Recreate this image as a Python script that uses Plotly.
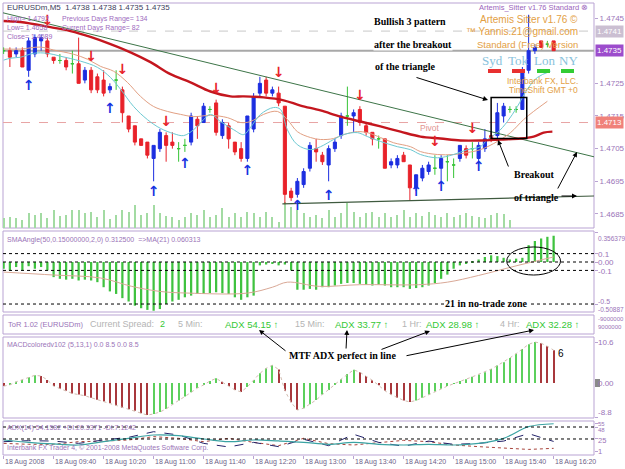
import plotly.graph_objects as go

# ---------------- data ----------------
# 5-minute bars, index 0 = 18 Aug 2008 09:00
bar_i = list(range(89))
opens = [1.4735,1.4735,1.4734,1.4735,1.4729,1.4734,1.4738,1.4738,1.4733,1.4732,
         1.4732,1.4731,1.4731,1.4726,1.4729,1.4727,1.4726,1.4723,1.4726,1.4723,
         1.4715,1.4712,1.4708,1.4707,1.4702,1.4705,1.4709,1.4707,1.4705,1.4706,
         1.4707,1.4714,1.4713,1.4717,1.4719,1.4709,1.4712,1.4707,1.4705,1.4702,
         1.4711,1.4722,1.4726,1.4722,1.4722,1.4718,1.4692,1.4691,1.4694,1.4699,
         1.4705,1.4703,1.4700,1.4705,1.4709,1.4715,1.4715,1.4717,1.4712,1.4710,
         1.4708,1.4708,1.4700,1.4700,1.4703,1.4700,1.4693,1.4696,1.4698,1.4699,
         1.4699,1.4701,1.4700,1.4702,1.4705,1.4705,1.4702,1.4705,1.4709,1.4709,
         1.4715,1.4717,1.4717,1.4717,1.4729,1.4735,1.4738,1.4737,1.4738]
highs = [1.4736,1.4736,1.4736,1.4736,1.4739,1.4740,1.4740,1.4739,1.4733,1.4734,
         1.4733,1.4735,1.4739,1.4730,1.4730,1.4728,1.4729,1.4725,1.4729,1.4724,
         1.4715,1.4712,1.4708,1.4707,1.4706,1.4711,1.4710,1.4710,1.4707,1.4708,
         1.4716,1.4715,1.4719,1.4718,1.4720,1.4714,1.4713,1.4707,1.4707,1.4715,
         1.4722,1.4727,1.4727,1.4724,1.4724,1.4718,1.4693,1.4696,1.4699,1.4707,
         1.4708,1.4704,1.4706,1.4708,1.4716,1.4724,1.4717,1.4718,1.4713,1.4710,
         1.4709,1.4708,1.4702,1.4703,1.4704,1.4700,1.4697,1.4700,1.4701,1.4703,
         1.4703,1.4703,1.4702,1.4706,1.4706,1.4707,1.4707,1.4711,1.4710,1.4719,
         1.4719,1.4718,1.4718,1.4730,1.4746,1.4737,1.4738,1.4738,1.4738]
lows = [1.4734,1.4730,1.4733,1.4730,1.4727,1.4733,1.4735,1.4733,1.4731,1.4731,
        1.4729,1.4728,1.4725,1.4725,1.4722,1.4722,1.4721,1.4722,1.4723,1.4713,
        1.4710,1.4706,1.4706,1.4702,1.4695,1.4704,1.4701,1.4705,1.4701,1.4704,
        1.4706,1.4708,1.4713,1.4716,1.4709,1.4708,1.4705,1.4703,1.4701,1.4701,
        1.4710,1.4721,1.4721,1.4721,1.4718,1.4688,1.4689,1.4690,1.4693,1.4698,
        1.4701,1.4700,1.4695,1.4704,1.4708,1.4712,1.4710,1.4712,1.4709,1.4706,
        1.4705,1.4699,1.4699,1.4699,1.4701,1.4689,1.4692,1.4695,1.4697,1.4697,
        1.4695,1.4695,1.4696,1.4701,1.4702,1.4702,1.4701,1.4704,1.4707,1.4708,
        1.4713,1.4716,1.4716,1.4717,1.4728,1.4734,1.4736,1.4736,1.4735]
closes = [1.4735,1.4733,1.4735,1.4730,1.4738,1.4739,1.4739,1.4734,1.4732,1.4732,
          1.4730,1.4731,1.4725,1.4729,1.4723,1.4723,1.4722,1.4724,1.4726,1.4716,
          1.4711,1.4707,1.4706,1.4703,1.4706,1.4710,1.4706,1.4706,1.4705,1.4706,
          1.4715,1.4712,1.4718,1.4717,1.4710,1.4713,1.4708,1.4704,1.4702,1.4715,
          1.4721,1.4725,1.4722,1.4723,1.4719,1.4691,1.4690,1.4695,1.4698,1.4706,
          1.4704,1.4701,1.4705,1.4707,1.4715,1.4715,1.4716,1.4713,1.4710,1.4708,
          1.4708,1.4699,1.4701,1.4702,1.4701,1.4693,1.4697,1.4699,1.4700,1.4699,
          1.4702,1.4701,1.4700,1.4706,1.4703,1.4705,1.4706,1.4708,1.4708,1.4716,
          1.4718,1.4717,1.4717,1.4729,1.4735,1.4736,1.4736,1.4737,1.4735]
doji_bars = [0, 9, 11, 18, 28, 29, 33, 55, 60, 69, 71, 72, 75, 81, 82, 87]

volume = [20,22,20,16,30,26,30,20,36,24, 26,36,36,30,32,22,36,18,26,36,
          32,46,26,30,46,30,24,22,16,22, 30,26,36,22,26,40,22,30,22,32,
          30,22,32,22,12,52,42,36,30,22, 26,20,36,22,30,50,32,22,30,32,
          22,30,22,26,36,22,30,24,32,26, 22,30,22,26,30,24,22,20,26,30, 28,16]

fast_i = [0,1.1,2.7,4.8,7,9.1,12.3,15,17.1,18.7,20.8,23,25.1,27.2,28.8,30.4,32,33.1,34.7,36.8,
          38.4,39.5,41.1,43.2,44.3,45.4,47,49.1,50.7,52.8,54.4,56.6,58.2,60.3,63,65.1,66.7,69.4,72,74.2,
          76.3,77.4,79,80.6,82.2,83.8,85.4,87.5]
fast_ma = [1.47321,1.47327,1.47330,1.47342,1.47342,1.47333,1.47318,1.47299,1.47268,1.47232,
           1.47179,1.47139,1.47112,1.47096,1.47090,1.47108,1.47139,1.47155,1.47133,1.47108,
           1.47093,1.47115,1.47155,1.47176,1.47170,1.47108,1.47062,1.47047,1.47056,1.47078,
           1.47093,1.47099,1.47087,1.47072,1.47056,1.47047,1.47032,1.47022,1.47032,1.47047,
           1.47056,1.47078,1.47099,1.47133,1.47179,1.47232,1.47268,1.47287]
mid_i = [0,2.7,5.9,8,11.2,13.4,15.5,17.6,19.8,21.9,24,26.2,28.3,30.4,33.1,35.8,37.9,39.5,41.6,43.8,
         45.4,47,49.1,50.7,52.8,54.4,56.6,58.2,60.3,62.4,65.1,66.7,69.4,72,74.2,76.3,79,81.1,83.2,84.8,87]
mid_ma = [1.47355,1.47355,1.47361,1.47352,1.47339,1.47324,1.47302,1.47287,1.47253,1.47210,
          1.47179,1.47164,1.47155,1.47148,1.47152,1.47145,1.47130,1.47133,1.47155,1.47164,
          1.47139,1.47102,1.47084,1.47078,1.47081,1.47093,1.47102,1.47099,1.47084,1.47068,
          1.47056,1.47041,1.47032,1.47032,1.47038,1.47047,1.47072,1.47099,1.47139,1.47164,1.47195]
slow_i = [0,2.7,7.5,10.7,13.9,17.1,20.3,23.5,26.7,29.9,33.1,36.3,38.4,41.6,44.8,47.5,50.7,53.9,57.1,60.3,
          63.5,66.7,69.9,73.1,76.3,79.5,82.7,84.8,86.4,87.8]
slow_ma = [1.47441,1.47438,1.47422,1.47410,1.47392,1.47370,1.47345,1.47315,1.47278,1.47253,
           1.47225,1.47210,1.47210,1.47207,1.47198,1.47182,1.47167,1.47148,1.47133,1.47118,
           1.47102,1.47087,1.47081,1.47075,1.47075,1.47078,1.47081,1.47087,1.47099,1.47102]

upper_tl_i = [-0.1, 94.46]
upper_tl = [1.47466, 1.47025]
lower_tl_i = [44.6, 94.46]
lower_tl = [1.46881, 1.46905]

up_arrow_i = [4, 17, 24, 29, 39, 47, 52, 66, 70, 76]
up_arrow_p = [1.4724, 1.4717, 1.46915, 1.4700, 1.46979, 1.46872, 1.46902, 1.46915, 1.4693, 1.46992]
dn_arrow_i = [7, 14, 19, 26, 34, 44, 57, 69, 75]
dn_arrow_p = [1.4744, 1.4733, 1.4729, 1.4713, 1.4723, 1.4728, 1.4721, 1.4707, 1.4711]

sma_angle = [-0.08,-0.10,-0.06,-0.10,-0.05,-0.08,-0.06,-0.10,-0.18,-0.20,
             -0.21,-0.20,-0.22,-0.21,-0.22,-0.24,-0.30,-0.35,-0.38,-0.43,
             -0.47,-0.52,-0.55,-0.57,-0.58,-0.56,-0.50,-0.47,-0.45,-0.42,
             -0.40,-0.38,-0.38,-0.37,-0.36,-0.37,-0.38,-0.42,-0.45,-0.42,
             -0.40,-0.04,-0.03,-0.02,-0.04,-0.03,-0.10,-0.33,-0.33,-0.32,
             -0.33,-0.30,-0.30,-0.28,-0.26,-0.25,-0.25,-0.26,-0.27,-0.28,
             -0.27,-0.28,-0.30,-0.30,-0.30,-0.32,-0.31,-0.30,-0.28,-0.25,
             -0.20,-0.15,-0.08,-0.04,-0.02,0.01,0.03,0.06,0.08,0.07,
             0.05,0.03,0.04,0.05,0.20,0.25,0.28,0.30,0.3125]
sma_ma_i = [0, 8, 15.5, 20.5, 25, 29.5, 39, 43, 45.4, 50.5, 57, 66.4, 71, 76, 82.3, 88]
sma_ma = [-0.12,-0.155,-0.19,-0.29,-0.35,-0.37,-0.37,-0.30,-0.24,-0.29,-0.27,-0.27,-0.24,-0.16,-0.04,0.06]
sma_levels = [0.356379, 0.1, 0.0, -0.1, -0.5, -0.50887]
sma_level_text = ['0.356379', '0.1', '0.00', '-0.1', '-0.5', '-0.50887']

macd = [-0.8,-0.5,0.3,0.8,1.5,2.0,1.8,0.8,-0.8,-1.5,
        -2.0,-2.7,-3.0,-3.3,-3.8,-4.3,-4.8,-5.2,-5.8,-6.4,
        -6.8,-7.2,-7.8,-8.3,-8.0,-7.5,-6.7,-5.5,-4.5,-3.5,
        -2.4,-1.3,-0.5,0.5,1.2,0.3,-0.8,-1.8,-2.3,-1.0,
        0.8,2.5,3.8,4.6,3.5,-2.0,-5.0,-7.0,-6.5,-5.5,
        -4.4,-3.0,-1.8,-0.4,1.0,2.3,3.4,2.8,1.8,0.7,
        -0.6,-2.0,-3.0,-3.8,-4.5,-4.9,-4.5,-3.8,-3.0,-2.2,
        -1.5,-0.8,-0.2,0.5,1.0,1.6,2.2,2.8,3.6,4.5,
        5.4,6.5,7.6,8.8,10.0,10.6,10.3,9.5,8.5]
macd_levels = [10.6, 0, -8.8]
macd_level_text = ['10.6', '0.00', '-8.8']

adx_i = [0,4,8,12,16,20,24,28,32,36,40,44,48,52,56,60,64,68,72,76,80,84,88]
adx = [23.1,18.7,15.5,13.5,19.8,26.3,32.7,31.4,25.0,19.8,23.1,21.2,18.7,14.8,18.7,14.8,13.5,14.8,13.5,16.6,26.3,48.6,54.2]
plus_di = [19.8,21.8,21.0,16.6,23.1,28.2,39.0,32.7,16.6,9.7,18.5,10.3,24.4,12.2,34.0,18.5,11.0,21.0,14.8,16.6,21.0,35.3,20.3]
minus_di = [16.6,14.8,14.8,19.8,21.0,23.1,29.5,26.3,19.8,26.3,18.5,12.2,26.3,16.0,13.5,18.5,22.4,19.8,13.5,10.3,7.1,5.0,7.1]
adx_levels = [55, 48, 25, 1]

time_i = [0, 8, 16, 24, 32, 40, 48, 56, 64, 72, 80, 88]
time_labels = ["18 Aug 2008", "18 Aug 09:40", "18 Aug 10:20", "18 Aug 11:00", "18 Aug 11:40",
               "18 Aug 12:20", "18 Aug 13:00", "18 Aug 13:40", "18 Aug 14:20", "18 Aug 15:00",
               "18 Aug 15:40", "18 Aug 16:20"]

price_ticks = [1.4745, 1.4725, 1.4715, 1.4705, 1.4695, 1.4685]

# ---------------- layout helpers ----------------
W, H = 625, 469
ML, MR = 3, 31
PW = W - ML - MR

def px(x):
    return (x - ML) / PW

def py(y):
    return 1 - y / H

def dom(top, bottom):
    return [py(bottom), py(top)]

XR = [-0.1, 94.46]
PURPLE = '#9a74b8'
BORDER = '#b9a3d3'
FONT = 'Liberation Sans'
SERIF = 'Liberation Serif'
BLUE = '#1c2ee0'
RED = '#e8222a'
GREEN = '#36c436'

fig = go.Figure()

# volume (base axis of main pane)
fig.add_trace(go.Bar(x=bar_i[:len(volume)], y=volume, width=0.2, marker_color='#a3dba3',
                     marker_line_width=0, xaxis='x', yaxis='y', showlegend=False))

# trend lines and moving averages (price axis y6)
fig.add_trace(go.Scatter(x=upper_tl_i, y=upper_tl, mode='lines', line=dict(color='#3d7548', width=1),
                         xaxis='x', yaxis='y6'))
fig.add_trace(go.Scatter(x=lower_tl_i, y=lower_tl, mode='lines', line=dict(color='#3f5a3f', width=1.2),
                         xaxis='x', yaxis='y6'))
fig.add_trace(go.Scatter(x=mid_i, y=mid_ma, mode='lines', line=dict(color='#e2a083', width=1, shape='spline'),
                         xaxis='x', yaxis='y6'))
fig.add_trace(go.Scatter(x=fast_i, y=fast_ma, mode='lines', line=dict(color='#6cc9d2', width=1, shape='spline'),
                         xaxis='x', yaxis='y6'))
fig.add_trace(go.Scatter(x=slow_i, y=slow_ma, mode='lines', line=dict(color='#c4161e', width=2.4, shape='spline'),
                         xaxis='x', yaxis='y6'))

# candles
bx, bo, bh, bl, bc = [], [], [], [], []
gx, go_, gh, gl, gc = [], [], [], [], []
for k in bar_i:
    if k in doji_bars:
        gx.append(k); go_.append(opens[k]); gh.append(highs[k]); gl.append(lows[k]); gc.append(closes[k])
    else:
        bx.append(k); bo.append(opens[k]); bh.append(highs[k]); bl.append(lows[k]); bc.append(closes[k])

fig.add_trace(go.Candlestick(x=bx, open=bo, high=bh, low=bl, close=bc, xaxis='x', yaxis='y6',
                             increasing=dict(line=dict(color=BLUE, width=1), fillcolor=BLUE),
                             decreasing=dict(line=dict(color=RED, width=1), fillcolor=RED),
                             whiskerwidth=0, showlegend=False))
fig.add_trace(go.Candlestick(x=gx, open=go_, high=gh, low=gl, close=gc, xaxis='x', yaxis='y6',
                             increasing=dict(line=dict(color=GREEN, width=1), fillcolor=GREEN),
                             decreasing=dict(line=dict(color=GREEN, width=1), fillcolor=GREEN),
                             whiskerwidth=0, showlegend=False))

# fractal arrows
fig.add_trace(go.Scatter(x=up_arrow_i, y=up_arrow_p, mode='text', text=['<b>↑</b>'] * len(up_arrow_i),
                         textfont=dict(family='DejaVu Sans', size=14, color='#1530e0'),
                         textposition='middle center', xaxis='x', yaxis='y6'))
fig.add_trace(go.Scatter(x=dn_arrow_i, y=dn_arrow_p, mode='text', text=['<b>↓</b>'] * len(dn_arrow_i),
                         textfont=dict(family='DejaVu Sans', size=14, color='#e8222a'),
                         textposition='middle center', xaxis='x', yaxis='y6'))

# SMA angle pane
fig.add_trace(go.Bar(x=bar_i, y=sma_angle, width=0.36, marker_color='#3fc23f', marker_line_width=0,
                     xaxis='x2', yaxis='y2'))
fig.add_trace(go.Scatter(x=sma_ma_i, y=sma_ma, mode='lines', line=dict(color='#d9a896', width=1, shape='spline'),
                         xaxis='x2', yaxis='y2'))

# MACD pane
macd_colors = []
for k, v in enumerate(macd):
    macd_colors.append('#5cd05c' if k > 0 and v >= macd[k - 1] else '#a8383c')
fig.add_trace(go.Scatter(x=bar_i, y=macd, mode='lines', line=dict(color='#d2bcb0', width=1, dash='dot'),
                         xaxis='x4', yaxis='y4'))
fig.add_trace(go.Bar(x=bar_i, y=macd, width=0.2, marker_color=macd_colors, marker_line_width=0,
                     xaxis='x4', yaxis='y4'))

# ADX pane
fig.add_trace(go.Scatter(x=adx_i, y=minus_di, mode='lines', line=dict(color='#a8443c', width=1, dash='dot'),
                         xaxis='x5', yaxis='y5'))
fig.add_trace(go.Scatter(x=adx_i, y=plus_di, mode='lines', line=dict(color='#23236a', width=1, dash='dash'),
                         xaxis='x5', yaxis='y5'))
fig.add_trace(go.Scatter(x=adx_i, y=adx, mode='lines', line=dict(color='#3aa3a3', width=1.2, shape='spline'),
                         xaxis='x5', yaxis='y5'))

# ---------------- axes ----------------
tickfont = dict(family=FONT, size=8, color=PURPLE)
xcommon = dict(range=XR, showgrid=False, zeroline=False, showticklabels=False, ticks='', showline=False)
layout = dict(
    width=W, height=H, autosize=False, margin=dict(l=ML, r=MR, t=0, b=0),
    paper_bgcolor='white', plot_bgcolor='white', showlegend=False, boxgap=0.3,
    font=dict(family=FONT, size=8, color=PURPLE),
    xaxis=dict(xcommon, anchor='y', rangeslider=dict(visible=False)),
    xaxis2=dict(xcommon, anchor='y2', matches='x'),
    xaxis3=dict(xcommon, anchor='y3', matches='x'),
    xaxis4=dict(xcommon, anchor='y4', matches='x'),
    xaxis5=dict(xcommon, anchor='y5', matches='x', ticks='outside', ticklen=3, tickcolor=BORDER,
                tickvals=time_i),
    yaxis=dict(domain=dom(3, 228), range=[0, 450], visible=False, fixedrange=True),
    yaxis6=dict(overlaying='y', anchor='x', side='right', range=[1.46807, 1.47496],
                tickvals=price_ticks, ticktext=['%.4f' % v for v in price_ticks],
                ticks='outside', ticklen=3, tickcolor=BORDER, tickfont=tickfont,
                showgrid=False, zeroline=False, showline=False),
    yaxis2=dict(domain=dom(231, 312), anchor='x2', side='right', range=[-0.595, 0.369],
                tickvals=sma_levels, ticktext=[''] * len(sma_levels),
                ticks='outside', ticklen=3, tickcolor=BORDER, tickfont=tickfont,
                showgrid=False, zeroline=False, showline=False),
    yaxis3=dict(domain=dom(315, 334), anchor='x3', range=[0, 1], visible=False),
    yaxis4=dict(domain=dom(337, 418), anchor='x4', side='right', range=[-9.05, 11.9],
                tickvals=macd_levels, ticktext=[''] * len(macd_levels),
                ticks='outside', ticklen=3, tickcolor=BORDER, tickfont=tickfont,
                showgrid=False, zeroline=False, showline=False),
    yaxis5=dict(domain=dom(421, 455), anchor='x5', side='right', range=[-5.7, 59.5],
                tickvals=adx_levels, ticktext=[''] * len(adx_levels),
                ticks='outside', ticklen=3, tickcolor=BORDER, tickfont=tickfont,
                showgrid=False, zeroline=False, showline=False),
)
fig.update_layout(**layout)

# ---------------- shapes ----------------
shapes = []
for top, bottom in [(3, 228), (231, 312), (315, 334), (337, 418), (421, 455)]:
    shapes.append(dict(type='rect', xref='paper', yref='paper', x0=0, x1=1, y0=py(bottom), y1=py(top),
                       line=dict(color=BORDER, width=1), layer='below'))
# horizontal price lines
shapes.append(dict(type='line', xref='paper', yref='y6', x0=0, x1=1, y0=1.4741, y1=1.4741,
                   line=dict(color='#c9c9c9', width=1, dash='dash'), layer='below'))
shapes.append(dict(type='line', xref='paper', yref='y6', x0=0, x1=1, y0=1.4735, y1=1.4735,
                   line=dict(color='#a8a8a8', width=2), layer='below'))
shapes.append(dict(type='line', xref='paper', yref='y6', x0=0, x1=1, y0=1.4713, y1=1.4713,
                   line=dict(color='#e8a4a4', width=1, dash='dash'), layer='below'))
# pattern box
shapes.append(dict(type='rect', xref='x', yref='y6', x0=78.0, x1=83.7, y0=1.47081, y1=1.47207,
                   line=dict(color='black', width=1.5)))
# SMA levels
for lv in [0.1, 0.0, -0.1, -0.5]:
    shapes.append(dict(type='line', xref='paper', yref='y2', x0=0, x1=1, y0=lv, y1=lv,
                       line=dict(color='black', width=1, dash='dot')))
shapes.append(dict(type='circle', xref='x2', yref='y2', x0=80.5, x1=89.1, y0=-0.155, y1=0.179,
                   line=dict(color='black', width=1)))
# ADX levels
for lv in [48, 25]:
    shapes.append(dict(type='line', xref='paper', yref='y5', x0=0, x1=1, y0=lv, y1=lv,
                       line=dict(color='black', width=1, dash='dot')))
# session bars
for x0, col in [(488, '#e83030'), (512, '#e83030'), (537, '#33cc33'), (561, '#33cc33')]:
    shapes.append(dict(type='rect', xref='paper', yref='paper', x0=px(x0), x1=px(x0 + 13),
                       y0=py(73), y1=py(69), line=dict(width=0), fillcolor=col))
# MACD zero marker
shapes.append(dict(type='rect', xref='paper', yref='paper', x0=px(595), x1=px(600), y0=py(387), y1=py(379),
                   line=dict(width=0), fillcolor='#8a8a8a'))
fig.update_layout(shapes=shapes)

# ---------------- annotations ----------------
ann = []

def text(x, y, s, size=8, color=PURPLE, family=FONT, anchor='left', bg=None, yanchor='middle'):
    d = dict(xref='paper', yref='paper', x=px(x), y=py(y), text=s, showarrow=False,
             xanchor=anchor, yanchor=yanchor, align='left',
             font=dict(family=family, size=size, color=color))
    if bg:
        d['bgcolor'] = bg
        d['borderpad'] = 0
    ann.append(d)

def arrow(tx, ty, tailx, taily, width=1):
    ann.append(dict(xref='paper', yref='paper', x=px(tx), y=py(ty), ax=tailx - tx, ay=taily - ty,
                    text='', showarrow=True, arrowhead=2, arrowsize=1, arrowwidth=width,
                    arrowcolor='black'))

# top-left info
text(5, 7, 'EURUSDm,M5  1.4738 1.4738 1.4735 1.4735', 8, '#3c3c5c')
text(5, 13, 'High= 1.4792<br>Low= 1.4658<br>Close= 1.4689', 7, '#a06ac0', yanchor='top')
text(60, 13, 'Previous Days Range= 134<br>Current Days Range= 82', 7, '#a06ac0', yanchor='top')

# indicator box top-right
text(590, 8, 'Artemis_Sitter v1.76 Standard ⊗', 7.5, '#9a64bc', anchor='right')
text(580, 20, 'Artemis Sitter v1.76 ©', 10, '#e3a044', anchor='right')
text(580, 32, '™ Yannis.21@gmail.com', 10, '#e3a044', anchor='right')
text(580, 44, 'Standard (Free) Version', 9.5, '#e3a044', anchor='right')
for x0, s in [(492, 'Syd'), (518, 'Tok'), (544, 'Lon'), (568, 'NY')]:
    text(x0, 60, s, 13, '#88c2dc', SERIF, anchor='center')
text(580, 81, 'Interbank FX, LLC.', 8.5, '#e3a044', anchor='right')
text(580, 90, 'TimeShift GMT +0', 8.5, '#e3a044', anchor='right')

# price highlights
def price_label(p, s, bg):
    ann.append(dict(xref='paper', yref='y6', x=px(595), y=p, text=s, showarrow=False, xanchor='left',
                    yanchor='middle', bgcolor=bg, borderpad=1,
                    font=dict(family=FONT, size=8, color='white')))
price_label(1.4741, '1.4741', '#cbbfd2')
price_label(1.4735, '1.4735', '#9c4ccc')
price_label(1.4713, '1.4713', '#f0817a')

text(418, 128, 'Pivot', 8.5, '#e2948f')

# hand annotations
text(373, 22, '<b>Bullish 3 pattern</b>', 10, 'black', SERIF, bg='white')
text(373, 44, '<b>after the breakout</b>', 10, 'black', SERIF, bg='white')
text(373, 67, '<b>of the triangle</b>', 10, 'black', SERIF)
text(512, 175, '<b>Breakout</b>', 10, 'black', SERIF)
text(512, 197, '<b>of triangle</b>', 10, 'black', SERIF)
arrow(488, 100, 415, 77)
arrow(498, 140, 509, 168)
arrow(577, 196, 560, 196)
arrow(577, 152, 557, 190)

# SMA header + level labels
text(5, 240, 'SMAAngle(50,0.15000000,2,0) 0.312500  =>MA(21) 0.060313', 7, PURPLE)
for lab_y, s, sz in zip([238, 254, 262, 271, 301, 309], sma_level_text, [6.5, 8, 8, 8, 7, 6.5]):
    text(596, lab_y, s, sz, PURPLE)
text(486, 303, '<b>21 in no-trade zone</b>', 10, 'black', SERIF, anchor='center', bg='white')

# MACD level labels
for lab_y, s in zip([342, 383, 412], macd_level_text):
    text(596, lab_y, s, 8, PURPLE)

# ADX level labels
for lab_y, lv, sz in zip([424, 430, 440, 451], adx_levels, [6, 6, 7.5, 7.5]):
    text(596, lab_y, str(lv), sz, PURPLE)

# ToR line
text(6, 324, 'ToR 1.02 (EURUSDm)', 7.5, PURPLE)
text(88, 324, 'Current Spread:', 9, '#b4b4b4')
text(158, 324, '2', 9, '#35c835')
for x0, lab, x1, val in [(176, '5 Min:', 223, 'ADX 54.15 <b>↑</b>'), (293, '15 Min:', 333, 'ADX 33.77 <b>↑</b>'),
                         (400, '1 Hr:', 424, 'ADX 28.98 <b>↑</b>'), (498, '4 Hr:', 524, 'ADX 32.28 <b>↑</b>')]:
    text(x0, 324, lab, 9, '#b4b4b4')
    text(x1, 324, val, 9.5, '#35c835')
text(596, 319, '-9000000', 6, PURPLE)
text(596, 327, '9000000', 6, PURPLE)

# MACD header
text(5, 345, 'MACDcoloredv102 (5,13,1) 0.0 8.5 0.0 8.5', 7, PURPLE)
text(556, 353, '6', 10, 'black')
text(287, 355, '<b>MTF ADX perfect in line</b>', 10, 'black', SERIF)
arrow(259, 330, 287, 352)
arrow(347, 330, 346, 350)
arrow(430, 331, 380, 350)
arrow(534, 330, 405, 356)

# ADX header
text(5, 428, 'ADX(14) 54.1582 +DI:20.3371 -DI:7.1242', 7, PURPLE)
text(5, 448, 'Interbank FX Trader 4, © 2001-2008 MetaQuotes Software Corp.', 7, PURPLE)

# time labels
for k, s in zip(time_i, time_labels):
    ann.append(dict(xref='x5', yref='paper', x=k, y=py(462), text=s, showarrow=False, xanchor='left',
                    yanchor='middle', xshift=-1, font=dict(family=FONT, size=7, color='#6e5f88')))

fig.update_layout(annotations=ann)
fig.write_html('out.html')
